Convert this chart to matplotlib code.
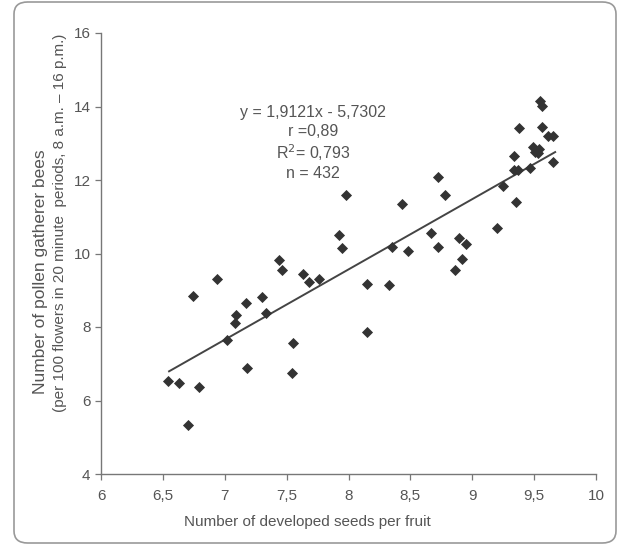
import matplotlib
matplotlib.use("Agg")
import matplotlib.pyplot as plt
from matplotlib.patches import FancyBboxPatch
import numpy as np

plt.rcParams['font.family'] = ['Liberation Sans', 'DejaVu Sans']

seeds = [6.54, 6.63, 6.79, 6.70, 6.74, 6.94, 7.02, 7.08, 7.09, 7.17, 7.18, 7.30, 7.33,
         7.44, 7.46, 7.55, 7.54, 7.63, 7.68, 7.76, 7.92, 7.95, 7.98, 8.15, 8.15, 8.33,
         8.35, 8.43, 8.48, 8.67, 8.72, 8.72, 8.78, 8.86, 8.89, 8.92, 8.95, 9.20, 9.25,
         9.34, 9.34, 9.37, 9.35, 9.38, 9.47, 9.49, 9.51, 9.53, 9.55, 9.56, 9.56, 9.61,
         9.65, 9.65, 9.54]
bees = [6.54, 6.48, 6.38, 5.33, 8.84, 9.30, 7.65, 8.12, 8.34, 8.64, 6.88, 8.82, 8.37,
        9.82, 9.55, 7.56, 6.74, 9.44, 9.22, 9.31, 10.50, 10.14, 11.59, 9.17, 7.87, 9.14,
        10.19, 11.34, 10.07, 10.55, 10.17, 12.09, 11.59, 9.55, 10.41, 9.85, 10.25, 10.70,
        11.84, 12.65, 12.27, 12.27, 11.41, 13.42, 12.32, 12.91, 12.77, 12.74, 14.15, 14.01,
        13.45, 13.20, 13.20, 12.50, 12.85]
slope = 1.9121
intercept = -5.7302
fit_range = [6.55, 9.67]
annotation = ["y = 1,9121x - 5,7302", "r =0,89", "R$^2$= 0,793", "n = 432"]
x_ticks = [6, 6.5, 7, 7.5, 8, 8.5, 9, 9.5, 10]
x_labels = ["6", "6,5", "7", "7,5", "8", "8,5", "9", "9,5", "10"]
y_ticks = [4, 6, 8, 10, 12, 14, 16]

W, H = 621, 547
fig = plt.figure(figsize=(W/100, H/100), dpi=100)
fig.patch.set_facecolor('white')

# rounded frame
frame = FancyBboxPatch((14/W, 4/H), (616-14)/W, (545-4)/H,
                       boxstyle="round,pad=0,rounding_size=0.022",
                       transform=fig.transFigure, facecolor='none',
                       edgecolor='#999999', linewidth=1.2)
fig.patches.append(frame)

ax = fig.add_axes([101/W, (H-474)/H, (596-101)/W, (474-33)/H])
tc = '#555555'
ax.scatter(seeds, bees, marker='D', s=32, color='#333333', zorder=3, linewidths=0)
xf = np.array(fit_range)
ax.plot(xf, slope*xf + intercept, color='#444444', lw=1.4, zorder=2)

ax.set_xlim(6, 10)
ax.set_ylim(4, 16)
ax.set_xticks(x_ticks)
ax.set_xticklabels(x_labels)
ax.set_yticks(y_ticks)
for s in ['top', 'right']:
    ax.spines[s].set_visible(False)
for s in ['left', 'bottom']:
    ax.spines[s].set_color('#777777')
    ax.spines[s].set_linewidth(1.0)
ax.tick_params(direction='out', length=4, width=0.9, color='#777777',
               labelcolor=tc, labelsize=11)
ax.tick_params(axis='x', pad=7)

fig.text(307/W, 1-522/H, "Number of developed seeds per fruit",
         ha='center', va='center', color=tc, fontsize=11)

fig.text(40/W, 1-394/H, "Number of pollen gatherer bees", rotation=90,
         rotation_mode='anchor', ha='left', va='center', color=tc, fontsize=12.5)
fig.text(60/W, 1-412/H, "(per 100 flowers in 20 minute  periods, 8 a.m. \u2013 16 p.m.)",
         rotation=90, rotation_mode='anchor', ha='left', va='center', color=tc, fontsize=11)

ys = [112, 132, 153, 173]
for t, yy in zip(annotation, ys):
    fig.text(313/W, 1-yy/H, t, ha='center', va='center', color=tc, fontsize=11.5)

fig.savefig("out.png", dpi=100, facecolor='white')
